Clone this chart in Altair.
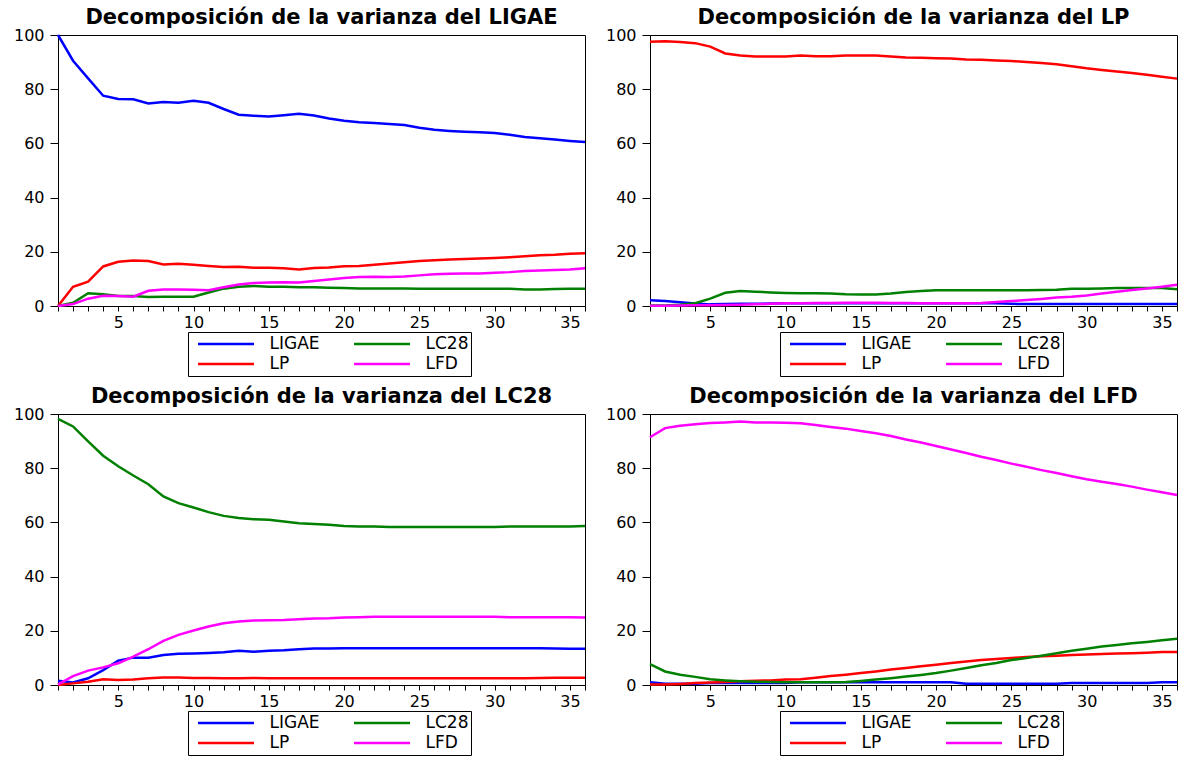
import altair as alt
import pandas as pd

# Forecast horizon (periods)
horizon = list(range(1, 37))

# Series order: the two-column legend is filled column by column
series = ["LIGAE", "LP", "LC28", "LFD"]
series_colors = ["#0000FF", "#FF0000", "#008000", "#FF00FF"]

# --- Variance decomposition of LIGAE ---
ligae_ligae = [100, 90.5, 84.0, 77.6, 76.4, 76.3, 74.7, 75.3, 75.0, 75.7, 75.0, 72.7,
               70.6, 70.2, 69.9, 70.4, 70.9, 70.3, 69.2, 68.4, 67.8, 67.5, 67.2, 66.8,
               65.8, 65.0, 64.6, 64.3, 64.1, 63.8, 63.2, 62.4, 61.9, 61.4, 60.9, 60.5]
ligae_lp = [0, 7.1, 9.0, 14.6, 16.3, 16.8, 16.6, 15.3, 15.6, 15.2, 14.8, 14.4,
            14.5, 14.1, 14.1, 13.9, 13.5, 14.0, 14.2, 14.7, 14.8, 15.2, 15.7, 16.1,
            16.6, 16.9, 17.2, 17.3, 17.5, 17.7, 18.0, 18.4, 18.7, 18.9, 19.3, 19.5]
ligae_lc28 = [0, 1.2, 4.7, 4.3, 3.7, 3.7, 3.3, 3.4, 3.4, 3.4, 5.0, 6.4,
              7.1, 7.4, 7.1, 7.1, 6.9, 6.9, 6.7, 6.6, 6.5, 6.5, 6.5, 6.5,
              6.4, 6.4, 6.4, 6.4, 6.4, 6.4, 6.4, 6.1, 6.1, 6.3, 6.4, 6.4]
ligae_lfd = [0, 0.7, 2.7, 3.8, 3.7, 3.4, 5.6, 6.1, 6.1, 6.0, 5.8, 6.9,
             7.9, 8.5, 8.7, 8.8, 8.7, 9.2, 9.8, 10.3, 10.7, 10.8, 10.7, 10.9,
             11.3, 11.7, 11.9, 12.0, 12.0, 12.3, 12.5, 12.9, 13.1, 13.3, 13.5, 13.9]

# --- Variance decomposition of LP ---
lp_ligae = [2.1, 1.8, 1.4, 0.9, 0.6, 0.7, 0.8, 0.8, 0.9, 1.0, 1.0, 1.0,
            1.0, 1.0, 1.0, 1.0, 1.0, 1.0, 1.0, 1.0, 1.0, 1.0, 1.0, 1.0,
            0.8, 0.7, 0.7, 0.7, 0.7, 0.7, 0.7, 0.7, 0.7, 0.7, 0.7, 0.7]
lp_lp = [97.5, 97.7, 97.4, 97.0, 95.7, 93.2, 92.4, 92.1, 92.1, 92.1, 92.4, 92.2,
         92.2, 92.4, 92.4, 92.4, 92.1, 91.7, 91.6, 91.4, 91.3, 91.0, 90.9, 90.6,
         90.4, 90.0, 89.7, 89.2, 88.5, 87.7, 87.1, 86.5, 86.0, 85.3, 84.6, 83.9]
lp_lc28 = [0.2, 0.2, 0.5, 1.0, 2.7, 4.9, 5.5, 5.3, 5.0, 4.8, 4.7, 4.7,
           4.6, 4.3, 4.2, 4.2, 4.6, 5.2, 5.5, 5.8, 5.8, 5.8, 5.8, 5.8,
           5.8, 5.8, 5.9, 6.0, 6.4, 6.4, 6.5, 6.6, 6.6, 6.6, 6.6, 6.2]
lp_lfd = [0.1, 0.1, 0.2, 0.3, 0.3, 0.4, 0.5, 0.6, 0.8, 1.0, 1.0, 1.1,
          1.1, 1.2, 1.2, 1.2, 1.1, 1.1, 1.0, 1.0, 1.0, 1.0, 1.1, 1.5,
          1.8, 2.2, 2.6, 3.1, 3.4, 3.9, 4.6, 5.3, 5.9, 6.5, 7.1, 7.8]

# --- Variance decomposition of LC28 ---
lc28_ligae = [1.6, 0.9, 2.5, 5.5, 9.0, 10.1, 10.1, 11.1, 11.5, 11.6, 11.8, 12.1,
              12.6, 12.3, 12.6, 12.8, 13.2, 13.5, 13.5, 13.6, 13.6, 13.6, 13.6, 13.6,
              13.6, 13.6, 13.6, 13.6, 13.6, 13.6, 13.6, 13.6, 13.6, 13.5, 13.4, 13.4]
lc28_lp = [0, 0.6, 1.2, 2.1, 1.8, 2.0, 2.5, 2.8, 2.8, 2.6, 2.6, 2.5,
           2.5, 2.6, 2.5, 2.5, 2.5, 2.5, 2.5, 2.5, 2.5, 2.5, 2.5, 2.5,
           2.5, 2.5, 2.5, 2.5, 2.5, 2.5, 2.5, 2.5, 2.6, 2.7, 2.7, 2.7]
lc28_lc28 = [98.2, 95.4, 89.9, 84.6, 80.7, 77.3, 74.1, 69.6, 67.1, 65.5, 63.8, 62.4,
             61.6, 61.2, 61.0, 60.3, 59.7, 59.4, 59.1, 58.7, 58.5, 58.5, 58.3, 58.3,
             58.3, 58.3, 58.3, 58.3, 58.3, 58.3, 58.5, 58.5, 58.5, 58.5, 58.5, 58.7]
lc28_lfd = [0.2, 3.3, 5.3, 6.5, 8.0, 10.5, 13.2, 16.3, 18.5, 20.1, 21.6, 22.8,
            23.4, 23.8, 23.9, 24.0, 24.3, 24.5, 24.6, 24.9, 25.0, 25.2, 25.2, 25.2,
            25.2, 25.2, 25.2, 25.2, 25.2, 25.2, 25.0, 25.0, 25.0, 25.0, 25.0, 24.9]

# --- Variance decomposition of LFD ---
lfd_ligae = [1.0, 0.5, 0.5, 0.5, 0.7, 0.7, 0.7, 0.7, 0.7, 0.7, 1.0, 1.0,
             1.0, 1.0, 1.0, 1.0, 1.0, 1.0, 1.0, 1.0, 1.0, 0.5, 0.5, 0.5,
             0.5, 0.5, 0.5, 0.5, 0.7, 0.7, 0.7, 0.7, 0.7, 0.7, 1.0, 1.0]
lfd_lp = [0.2, 0.2, 0.4, 0.7, 0.9, 1.1, 1.4, 1.6, 1.7, 2.0, 2.1, 2.7,
          3.3, 3.8, 4.4, 5.0, 5.7, 6.3, 6.9, 7.5, 8.1, 8.7, 9.2, 9.6,
          10.0, 10.3, 10.6, 10.8, 11.1, 11.3, 11.4, 11.6, 11.7, 11.9, 12.2, 12.2]
lfd_lc28 = [7.7, 5.0, 3.8, 3.0, 2.1, 1.7, 1.4, 1.2, 1.1, 1.0, 1.0, 1.0,
            1.0, 1.1, 1.5, 2.0, 2.5, 3.1, 3.7, 4.4, 5.3, 6.3, 7.3, 8.1,
            9.2, 10.0, 10.8, 11.7, 12.6, 13.4, 14.2, 14.8, 15.4, 15.9, 16.5, 17.1]
lfd_lfd = [91.4, 94.8, 95.7, 96.2, 96.7, 96.9, 97.2, 96.9, 96.9, 96.8, 96.6, 95.9,
           95.2, 94.6, 93.7, 92.9, 91.9, 90.6, 89.5, 88.2, 86.9, 85.6, 84.2, 83.0,
           81.7, 80.5, 79.3, 78.2, 77.0, 75.9, 75.0, 74.2, 73.2, 72.1, 71.1, 70.1]

SANS = "DejaVu Sans"
PANEL_W = 527
PANEL_H = 271


def long_table(ligae, lp, lc28, lfd):
    rows = []
    for name, vals in (("LIGAE", ligae), ("LP", lp), ("LC28", lc28), ("LFD", lfd)):
        for period, value in zip(horizon, vals):
            rows.append({"periodo": period, "serie": name, "valor": value})
    return pd.DataFrame(rows)


def panel(title, table):
    return (
        alt.Chart(table, title=alt.Title(title))
        .mark_line(strokeWidth=2.5)
        .encode(
            x=alt.X(
                "periodo:Q",
                title=None,
                scale=alt.Scale(domain=[1, 36], nice=False, zero=False),
                axis=alt.Axis(
                    values=horizon,
                    labelExpr="datum.value % 5 === 0 ? datum.label : ''",
                    labelOverlap=False,
                    labelFlush=False,
                    tickSize=5,
                    labelPadding=3,
                ),
            ),
            y=alt.Y(
                "valor:Q",
                title=None,
                scale=alt.Scale(domain=[0, 100], nice=False),
                axis=alt.Axis(
                    values=[0, 20, 40, 60, 80, 100],
                    labelFlush=False,
                    tickSize=8,
                    labelPadding=6,
                ),
            ),
            color=alt.Color(
                "serie:N",
                scale=alt.Scale(domain=series, range=series_colors),
                legend=alt.Legend(
                    title=None,
                    orient="none",
                    legendX=130,
                    legendY=297,
                    columns=2,
                    symbolType="stroke",
                    symbolSize=3136,
                    symbolStrokeWidth=2.5,
                    symbolOffset=6.5,
                    clipHeight=20,
                    rowPadding=0,
                    columnPadding=26,
                    padding=2,
                    labelOffset=14,
                    labelFont=SANS,
                    labelFontSize=17,
                    labelColor="black",
                    strokeColor="black",
                    fillColor="white",
                ),
            ),
        )
        .properties(width=PANEL_W, height=PANEL_H)
    )


p_ligae = panel("Decomposición de la varianza del LIGAE",
                long_table(ligae_ligae, ligae_lp, ligae_lc28, ligae_lfd))
p_lp = panel("Decomposición de la varianza del LP",
             long_table(lp_ligae, lp_lp, lp_lc28, lp_lfd))
p_lc28 = panel("Decomposición de la varianza del LC28",
               long_table(lc28_ligae, lc28_lp, lc28_lc28, lc28_lfd))
p_lfd = panel("Decomposición de la varianza del LFD",
              long_table(lfd_ligae, lfd_lp, lfd_lc28, lfd_lfd))

top = alt.hconcat(p_ligae, p_lp, spacing=13).resolve_scale(color="independent").resolve_legend(color="independent")
bottom = alt.hconcat(p_lc28, p_lfd, spacing=13).resolve_scale(color="independent").resolve_legend(color="independent")

chart = (
    alt.vconcat(top, bottom, spacing=8)
    .resolve_scale(color="independent")
    .resolve_legend(color="independent")
    .properties(padding={"left": 12, "top": 6, "right": 0, "bottom": 0}, background="white")
    .configure_view(stroke="black", strokeWidth=1)
    .configure_axis(
        grid=False,
        domainColor="black",
        tickColor="black",
        labelColor="black",
        labelFont=SANS,
        labelFontSize=16,
        domainWidth=1,
        tickWidth=1,
    )
    .configure_title(
        font=SANS,
        fontSize=21,
        fontWeight="bold",
        color="black",
        anchor="middle",
        frame="group",
        offset=-1,
    )
)

chart.save("out.html", embed_options={"renderer": "svg", "actions": False})
